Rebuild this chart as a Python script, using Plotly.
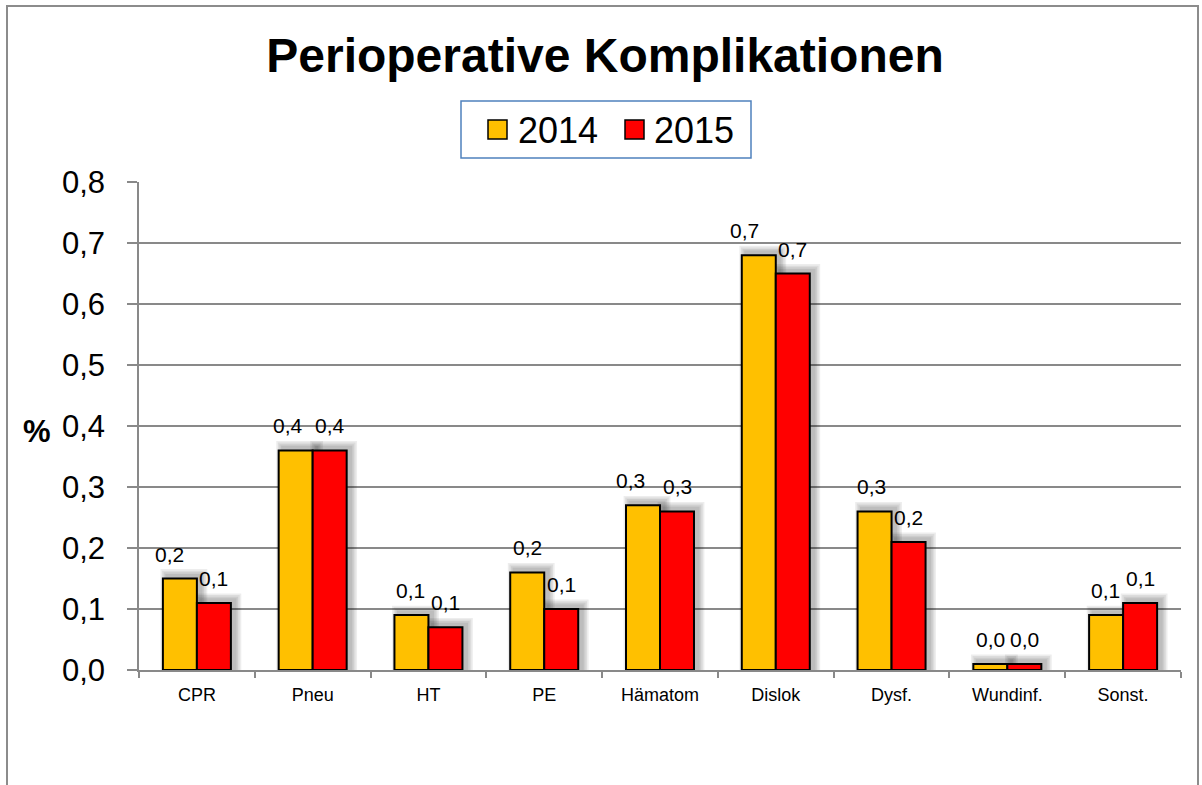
import plotly.graph_objects as go

categories = ["CPR", "Pneu", "HT", "PE", "Hämatom", "Dislok", "Dysf.", "Wundinf.", "Sonst."]
values_2014 = [0.15, 0.36, 0.09, 0.16, 0.27, 0.68, 0.26, 0.01, 0.09]
values_2015 = [0.11, 0.36, 0.07, 0.10, 0.26, 0.65, 0.21, 0.01, 0.11]
labels_2014 = ["0,2", "0,4", "0,1", "0,2", "0,3", "0,7", "0,3", "0,0", "0,1"]
labels_2015 = ["0,1", "0,4", "0,1", "0,1", "0,3", "0,7", "0,2", "0,0", "0,1"]
series_names = ["2014", "2015"]
y_ticks = [0.0, 0.1, 0.2, 0.3, 0.4, 0.5, 0.6, 0.7, 0.8]

# manual nudges (pixels) of the 2014 data labels, as placed in the original
label_nudge_2014 = [-10, -8, -1, 0, -13, -14, -3, 0, -1]

W, H = 1202, 785
ML, MR, MT, MB = 139, 21, 182, 115
PW, PH = W - ML - MR, H - MT - MB
FONT = "Liberation Sans, Arial, sans-serif"
GRID = "#898989"
YELLOW = "#FFC000"
RED = "#FF0000"


def px(x):
    return (x - ML) / PW


def py(y):
    return (MT + PH - y) / PH


idx = list(range(len(categories)))
BARW = 34 / (PW / len(categories))  # bar width in category units

fig = go.Figure()
fig.add_trace(go.Bar(x=idx, y=values_2014, name=series_names[0], width=BARW, offset=-BARW,
                     marker=dict(color=YELLOW, line=dict(color="black", width=2)), showlegend=False))
fig.add_trace(go.Bar(x=idx, y=values_2015, name=series_names[1], width=BARW, offset=0,
                     marker=dict(color=RED, line=dict(color="black", width=2)), showlegend=False))

px_to_y = 0.8 / PH
shapes = []
# soft shadows behind bars
for vals, (bx0, bx1) in ((values_2014, (-34, 0)), (values_2015, (0, 34))):
    for i, v in zip(idx, vals):
        for k in range(1, 5):
            spread = 1.6 * k
            shapes.append(dict(type="rect", xref="x", yref="y", xsizemode="pixel", xanchor=i,
                               x0=bx0 + 4 - spread, x1=bx1 + 4 + spread,
                               y0=0, y1=v + (3 + spread) * px_to_y,
                               fillcolor="rgba(0,0,0,0.07)", line=dict(width=0), layer="between"))

# outer chart frame
shapes.append(dict(type="rect", xref="paper", yref="paper",
                   x0=px(7), x1=px(1198), y0=py(830), y1=py(6),
                   line=dict(color="#8c8c8c", width=2), fillcolor="rgba(0,0,0,0)", layer="below"))

# legend box and swatches
shapes.append(dict(type="rect", xref="paper", yref="paper",
                   x0=px(461), x1=px(751), y0=py(158), y1=py(101),
                   line=dict(color="#4F81BD", width=1.5), fillcolor="white", layer="below"))
legend_colors = [YELLOW, RED]
legend_swatch_x = [488, 625]
legend_text_x = [516, 652]
for c, sx in zip(legend_colors, legend_swatch_x):
    shapes.append(dict(type="rect", xref="paper", yref="paper",
                       x0=px(sx), x1=px(sx + 19), y0=py(139), y1=py(120),
                       line=dict(color="black", width=1.5), fillcolor=c, layer="above"))

annotations = []
for name, tx in zip(series_names, legend_text_x):
    annotations.append(dict(x=px(tx), y=py(130), xref="paper", yref="paper", text=name,
                            showarrow=False, xanchor="left", yanchor="middle",
                            font=dict(family=FONT, size=36, color="black")))

for vals, labs, xs, nudges in ((values_2014, labels_2014, -17, label_nudge_2014),
                               (values_2015, labels_2015, 17, [0] * len(idx))):
    for i, v, t, n in zip(idx, vals, labs, nudges):
        annotations.append(dict(x=i, y=v, xref="x", yref="y", text=t, showarrow=False,
                                xshift=xs + n, yshift=11, yanchor="bottom",
                                font=dict(family=FONT, size=21, color="black")))
annotations.append(dict(x=px(37), y=py(431), xref="paper", yref="paper",
                        text="<b>%</b>", showarrow=False, xanchor="center", yanchor="middle",
                        font=dict(family=FONT, size=31, color="black")))

fig.update_layout(
    width=W, height=H,
    margin=dict(l=ML, r=MR, t=MT, b=MB),
    paper_bgcolor="white", plot_bgcolor="white",
    separators=",.",
    showlegend=False,
    title=dict(text="<b>Perioperative Komplikationen</b>", x=605 / W, xanchor="center",
               y=1 - 55 / H, yanchor="middle", font=dict(family=FONT, size=48, color="black")),
    xaxis=dict(range=[-0.5, len(categories) - 0.5], tickmode="array", tickvals=idx, ticktext=categories,
               ticks="", showgrid=False, showline=True, linecolor=GRID, linewidth=1.5,
               ticklabelstandoff=8, zeroline=False,
               tickfont=dict(family=FONT, size=18, color="black"),
               minor=dict(tickmode="linear", tick0=-0.5, dtick=1, ticks="outside", ticklen=6,
                          tickcolor=GRID, tickwidth=1.5, showgrid=False)),
    yaxis=dict(range=[0, 0.8], tickmode="array", tickvals=y_ticks, tickformat=".1f",
               showgrid=True, gridcolor=GRID, gridwidth=1.5, showline=True, linecolor=GRID, linewidth=1.5,
               ticks="outside", ticklen=10, tickcolor=GRID, tickwidth=1.5, zeroline=False,
               ticklabelstandoff=16, tickfont=dict(family=FONT, size=31, color="black")),
    shapes=shapes, annotations=annotations,
)

fig.write_html("out.html", config={"displayModeBar": False},
               post_script="document.body.style.margin='0';document.body.style.overflow='hidden';")
